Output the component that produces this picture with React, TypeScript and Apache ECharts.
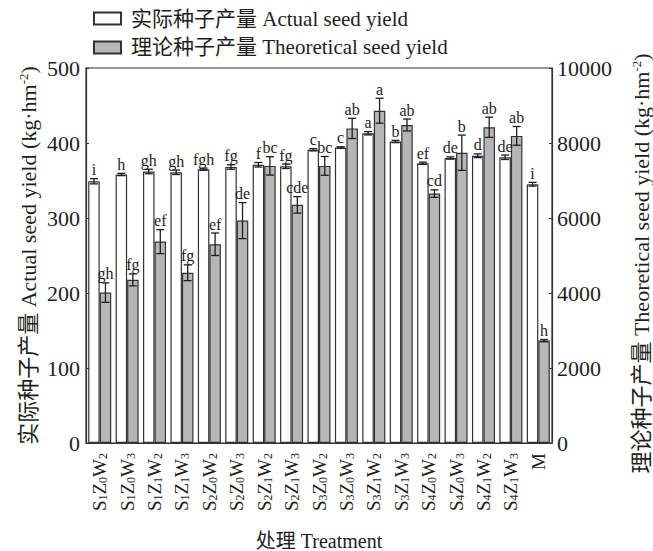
import React, { useEffect, useRef } from "react";
import * as echarts from "echarts";

const categories = ["S1Z0W2", "S1Z0W3", "S1Z1W2", "S1Z1W3", "S2Z0W2", "S2Z0W3", "S2Z1W2", "S2Z1W3", "S3Z0W2", "S3Z0W3", "S3Z1W2", "S3Z1W3", "S4Z0W2", "S4Z0W3", "S4Z1W2", "S4Z1W3", "M"];

const actualYield = [349, 358, 362, 361, 365, 368, 371, 369, 391, 394, 413, 402, 373, 380, 383, 381, 345];
const actualErr = [3.5, 1.5, 3, 3, 1.5, 3, 3, 3, 1.5, 1, 2.2, 1.5, 1.5, 1.5, 2.5, 3, 2.5];
const actualLetters = ["i", "h", "gh", "gh", "fgh", "fg", "f", "fg", "c", "c", "a", "b", "ef", "de", "d", "de", "i"];

const theoreticalYield = [4010, 4350, 5370, 4540, 5300, 5930, 7390, 6350, 7390, 8390, 8860, 8480, 6650, 7740, 8420, 8190, 2730];
const theoreticalErr = [260, 160, 320, 210, 300, 480, 245, 220, 250, 270, 333, 160, 100, 470, 270, 250, 30];
const theoreticalLetters = ["gh", "fg", "ef", "fg", "ef", "de", "bc", "cde", "bc", "ab", "a", "ab", "cd", "b", "ab", "ab", "h"];

const leftTicks = { min: 0, max: 500, interval: 100 };
const rightTicks = { min: 0, max: 10000, interval: 2000 };

const nameActual = "实际种子产量 Actual seed yield";
const nameTheoretical = "理论种子产量 Theoretical seed yield";

const FONT = '"Liberation Serif", "Times New Roman", "Noto Sans CJK SC", serif';
const BAR_RATIO = 0.42;
const INK = "#1e1e1e";

function labelRich(s: string): string {
  if (s.length === 1) return `{m|${s}}`;
  let out = "";
  for (let k = 0; k < s.length; k += 2) {
    out += `{m|${s[k]}}{s|${s[k + 1]}}`;
  }
  return out;
}

function makeErrSeries(values: number[], errs: number[], letters: string[], side: number, axisIdx: number) {
  return {
    type: "custom",
    yAxisIndex: axisIdx,
    z: 5,
    silent: true,
    data: values.map((v, i) => [i, v, errs[i]]),
    encode: { x: 0, y: 1 },
    renderItem: (params: any, api: any) => {
      const i = api.value(0);
      const v = api.value(1);
      const e = api.value(2);
      const bw = api.size([1, 0])[0] * BAR_RATIO;
      const cx = api.coord([i, v])[0] + (side * bw) / 2;
      const yTop = api.coord([i, v + e])[1];
      const yBot = api.coord([i, v - e])[1];
      const cap = 4;
      const ls = { stroke: INK, lineWidth: 1.3 };
      return {
        type: "group",
        children: [
          { type: "line", shape: { x1: cx, y1: yTop, x2: cx, y2: yBot }, style: ls },
          { type: "line", shape: { x1: cx - cap, y1: yTop, x2: cx + cap, y2: yTop }, style: ls },
          { type: "line", shape: { x1: cx - cap, y1: yBot, x2: cx + cap, y2: yBot }, style: ls },
          {
            type: "text",
            x: cx,
            y: yTop - 1,
            style: {
              text: letters[params.dataIndex],
              align: "center",
              verticalAlign: "bottom",
              fontSize: 16,
              fontFamily: FONT,
              fill: INK,
            },
          },
        ],
      };
    },
  };
}

export default function App() {
  const ref = useRef<HTMLDivElement>(null);
  useEffect(() => {
    if (!ref.current) return;
    const chart = echarts.init(ref.current, undefined, { renderer: "svg" });
    const axisName = (cn: string, en: string) => `{t|${cn} ${en} (kg·hm}{sup|-2}{t|)}`;
    const nameRich = {
      t: { fontSize: 22, fontFamily: FONT, color: INK },
      sup: { fontSize: 13, fontFamily: FONT, color: INK, verticalAlign: "top", padding: [0, 0, 8, 0] },
    };
    chart.setOption({
      animation: false,
      textStyle: { fontFamily: FONT, color: INK },
      legend: {
        orient: "vertical",
        left: 93,
        top: 8,
        padding: 0,
        itemWidth: 27,
        itemHeight: 12,
        itemGap: 8,
        icon: "rect",
        data: [nameActual, nameTheoretical],
        textStyle: { fontSize: 21, fontFamily: FONT, color: INK, padding: [0, 0, 0, 5] },
      },
      grid: {
        left: 86,
        right: 101,
        top: 68,
        bottom: 108,
        show: true,
        borderColor: "#333",
        borderWidth: 1.2,
        containLabel: false,
        outerBoundsMode: "none",
      },
      xAxis: {
        type: "category",
        data: categories,
        axisTick: { show: false },
        axisLine: { lineStyle: { color: "#333", width: 1.2 } },
        axisLabel: {
          rotate: 90,
          margin: 10,
          interval: 0,
          formatter: (v: string) => labelRich(v),
          rich: {
            m: { fontSize: 19, fontFamily: FONT, color: INK },
            s: { fontSize: 12, fontFamily: FONT, color: INK, verticalAlign: "bottom" },
          },
        },
        name: "处理 Treatment",
        nameLocation: "middle",
        nameGap: 88,
        nameMoveOverlap: false,
        nameTextStyle: { fontSize: 20, fontFamily: FONT, color: INK },
      },
      yAxis: [
        {
          type: "value",
          min: leftTicks.min,
          max: leftTicks.max,
          interval: leftTicks.interval,
          position: "left",
          axisLine: { show: true, lineStyle: { color: "#333", width: 1.2 } },
          axisTick: { show: true, inside: true, length: 3, lineStyle: { color: "#333" } },
          splitLine: { show: false },
          axisLabel: { fontSize: 22, fontFamily: FONT, color: INK, margin: 6 },
          name: axisName("实际种子产量", "Actual seed yield"),
          nameLocation: "middle",
          nameRotate: 90,
          nameGap: 47,
          nameMoveOverlap: false,
          nameTextStyle: { rich: nameRich },
        },
        {
          type: "value",
          min: rightTicks.min,
          max: rightTicks.max,
          interval: rightTicks.interval,
          position: "right",
          axisLine: { show: true, lineStyle: { color: "#333", width: 1.2 } },
          axisTick: { show: true, inside: true, length: 3, lineStyle: { color: "#333" } },
          splitLine: { show: false },
          axisLabel: { fontSize: 22, fontFamily: FONT, color: INK, margin: 5, formatter: (v: number) => String(v) },
          name: axisName("理论种子产量", "Theoretical seed yield"),
          nameLocation: "middle",
          nameRotate: 90,
          nameGap: 78,
          nameMoveOverlap: false,
          nameTextStyle: { rich: nameRich, padding: [0, 16, 0, 0] },
        },
      ],
      series: [
        {
          name: nameActual,
          type: "bar",
          yAxisIndex: 0,
          data: actualYield,
          barWidth: `${BAR_RATIO * 100}%`,
          barGap: "0%",
          itemStyle: { color: "#ffffff", borderColor: "#333", borderWidth: 1.2 },
        },
        {
          name: nameTheoretical,
          type: "bar",
          yAxisIndex: 1,
          data: theoreticalYield,
          barWidth: `${BAR_RATIO * 100}%`,
          barGap: "0%",
          itemStyle: { color: "#b5b6b8", borderColor: "#333", borderWidth: 1.2 },
        },
        makeErrSeries(actualYield, actualErr, actualLetters, -1, 0),
        makeErrSeries(theoreticalYield, theoreticalErr, theoreticalLetters, 1, 1),
      ],
    });
    return () => chart.dispose();
  }, []);
  return <div ref={ref} style={{ position: "absolute", left: 0, top: 0, width: 653, height: 551 }} />;
}
